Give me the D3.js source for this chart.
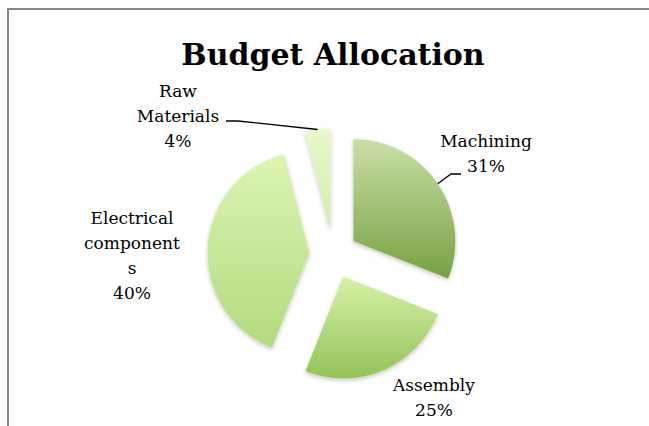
<!DOCTYPE html>
<html>
<head>
<meta charset="utf-8">
<script src="https://cdn.jsdelivr.net/npm/d3@7"></script>
<style>
  html, body { margin: 0; padding: 0; background: #fff; }
  svg { display: block; }
</style>
</head>
<body>
<svg id="chart" width="649" height="426"></svg>
<script>
// Budget shares by area (percent)
const categories = ["Machining", "Assembly", "Electrical components", "Raw Materials"];
const values = [31, 25, 40, 4];
const chartTitle = "Budget Allocation";

// Slice fills: top and bottom stops of each vertical gradient
const fillTop = ["#c9e0a6", "#d6f2a6", "#dcf5b2", "#e8f9cc"];
const fillBottom = ["#77a042", "#94c25a", "#b3da80", "#d2ecac"];

// Label placement: anchor point of the first line, and leader elbow (if any)
const labelLayout = [
  { x: 486, y: 147, leader: [[451, 174], [461, 174]] },
  { x: 434, y: 391, leader: null },
  { x: 132, y: 224, leader: null },
  { x: 178, y: 97, leader: [[238, 121], [226, 121]] }
];

const W = 649, H = 426;
const cx = 333.5, cy = 254.5, radius = 102, explode = 24;
const lineHeight = 25, wrapWidth = 100;

const svg = d3.select("#chart");
const defs = svg.append("defs");

// Frame (top and left edges only)
svg.append("path")
  .attr("d", `M8,${H} V9 H${W}`)
  .attr("fill", "none")
  .attr("stroke", "#888888")
  .attr("stroke-width", 2);

// Soft shadow under the slices
const shadow = defs.append("filter").attr("id", "sliceShadow")
  .attr("x", "-20%").attr("y", "-20%").attr("width", "140%").attr("height", "140%");
shadow.append("feDropShadow")
  .attr("dx", 0).attr("dy", 2).attr("stdDeviation", 2)
  .attr("flood-color", "#000").attr("flood-opacity", 0.22);

categories.forEach((c, i) => {
  const g = defs.append("linearGradient").attr("id", "grad" + i)
    .attr("x1", 0).attr("y1", 0).attr("x2", 0).attr("y2", 1);
  g.append("stop").attr("offset", "0%").attr("stop-color", fillTop[i]);
  g.append("stop").attr("offset", "100%").attr("stop-color", fillBottom[i]);
});

// Title
svg.append("text")
  .attr("x", 333).attr("y", 65)
  .attr("text-anchor", "middle")
  .attr("font-family", "'DejaVu Serif', serif")
  .attr("font-weight", "bold")
  .attr("font-size", 30)
  .attr("fill", "#000")
  .text(chartTitle);

const data = categories.map((name, i) => ({ name, value: values[i], i }));
const total = d3.sum(values);
const pct = d3.format(".0%");

const pie = d3.pie().sort(null).value(d => d.value).startAngle(0).endAngle(2 * Math.PI);
const arc = d3.arc().innerRadius(0).outerRadius(radius);
const arcs = pie(data);

const mid = a => (a.startAngle + a.endAngle) / 2;
const shift = a => [Math.sin(mid(a)) * explode, -Math.cos(mid(a)) * explode];

const pieG = svg.append("g").attr("transform", `translate(${cx},${cy})`);

pieG.selectAll("path.slice")
  .data(arcs)
  .join("path")
  .attr("class", "slice")
  .attr("transform", d => `translate(${shift(d)[0]},${shift(d)[1]})`)
  .attr("d", arc)
  .attr("fill", d => `url(#grad${d.data.i})`)
  .attr("filter", "url(#sliceShadow)");

// Leader lines from the slice edge to the label
arcs.forEach(a => {
  const lay = labelLayout[a.data.i];
  if (!lay.leader) return;
  const s = shift(a);
  const ex = cx + s[0] + Math.sin(mid(a)) * radius;
  const ey = cy + s[1] - Math.cos(mid(a)) * radius;
  const pts = [[ex, ey]].concat(lay.leader);
  svg.append("path")
    .attr("d", d3.line()(pts))
    .attr("fill", "none")
    .attr("stroke", "#000")
    .attr("stroke-width", 1.3);
});

// Word wrap that also splits words wider than the label box
function wrapLines(textSel, str) {
  const probe = textSel.append("tspan");
  const fits = s => { probe.text(s); return probe.node().getComputedTextLength() <= wrapWidth; };
  const lines = [];
  let cur = "";
  str.split(" ").forEach(word => {
    const trial = cur ? cur + " " + word : word;
    if (fits(trial)) { cur = trial; return; }
    if (cur) { lines.push(cur); cur = ""; }
    let piece = "";
    for (const ch of word) {
      if (fits(piece + ch)) piece += ch;
      else { lines.push(piece); piece = ch; }
    }
    cur = piece;
  });
  if (cur) lines.push(cur);
  probe.remove();
  return lines;
}

arcs.forEach(a => {
  const lay = labelLayout[a.data.i];
  const t = svg.append("text")
    .attr("text-anchor", "middle")
    .attr("font-family", "'DejaVu Serif', serif")
    .attr("font-size", 17)
    .attr("fill", "#000");
  const lines = wrapLines(t, a.data.name);
  lines.push(pct(a.data.value / total));
  lines.forEach((ln, k) => {
    t.append("tspan")
      .attr("x", lay.x)
      .attr("y", lay.y + k * lineHeight)
      .text(ln);
  });
});
</script>
</body>
</html>
